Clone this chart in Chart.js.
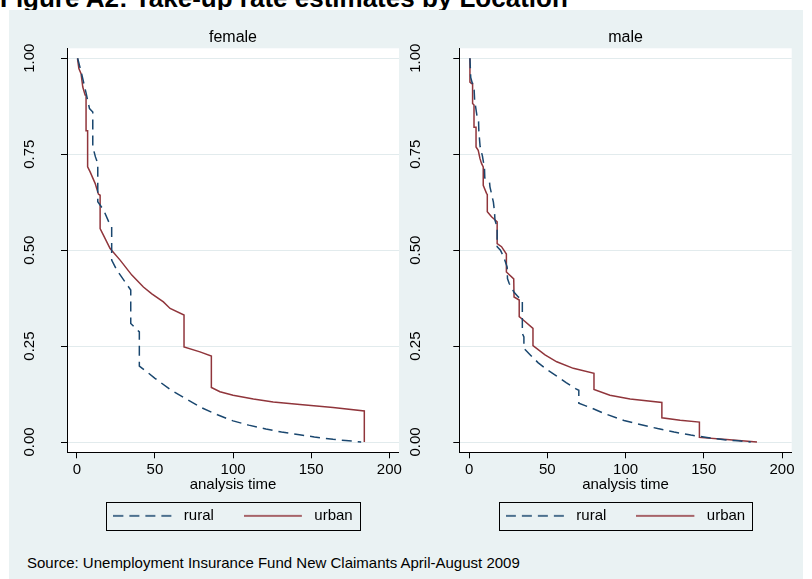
<!DOCTYPE html>
<html>
<head>
<meta charset="utf-8">
<script src="https://cdn.jsdelivr.net/npm/chart.js@4.4.1/dist/chart.umd.min.js"></script>
<style>
  html, body { margin: 0; padding: 0; background: #fff; }
  body { width: 812px; height: 579px; position: relative; overflow: hidden; font-family: "Liberation Sans", Arial, sans-serif; color: #000; }
  #title { position: absolute; left: 0; top: -15.5px; font-size: 26px; line-height: 26px; font-weight: bold; white-space: nowrap; }
  #panel { position: absolute; left: 9px; top: 10px; width: 794px; height: 569px; background: #eaf2f3; }
  canvas { position: absolute; }
  #source { position: absolute; left: 27px; top: 554px; font-size: 15px; line-height: 18px; white-space: nowrap; }
</style>
</head>
<body>
<div id="title">Figure A2: Take-up rate estimates by Location</div>
<div id="panel"></div>
<canvas id="female" width="396" height="540" style="left:9px;top:10px"></canvas>
<canvas id="male" width="398" height="540" style="left:405px;top:10px"></canvas>
<div id="source">Source: Unemployment Insurance Fund New Claimants April-August 2009</div>
<script>
const panels = ['female', 'male']
const seriesNames = ['rural', 'urban']
const xTicks = [0, 50, 100, 150, 200]
const yTicks = [0, 0.25, 0.5, 0.75, 1]
const xTitle = 'analysis time'

// Kaplan-Meier estimates (time, survivor share)
const femaleRuralTime = [0.5, 2.8, 6.0, 8.1, 10.2, 10.2, 11.9, 13.4, 13.4, 17.2, 20.9, 22.3, 22.3, 25.6, 30.9, 34.5, 34.5, 40.0, 40.0, 44.8, 50, 60, 70, 80, 90, 100, 110, 121, 131, 142.5, 152, 164, 172, 182]
const femaleRuralSurv = [1.000, 0.964, 0.908, 0.869, 0.860, 0.769, 0.743, 0.726, 0.626, 0.604, 0.569, 0.561, 0.474, 0.448, 0.417, 0.396, 0.309, 0.287, 0.198, 0.183, 0.166, 0.136, 0.112, 0.089, 0.071, 0.055, 0.044, 0.034, 0.026, 0.019, 0.013, 0.007, 0.004, 0.000]

const femaleUrbanTime = [0.4, 1.3, 2.7, 3.8, 5.3, 5.9, 5.9, 6.9, 6.9, 8.5, 11.7, 13.8, 14.9, 14.9, 17.0, 21.3, 27.7, 35.2, 42.6, 48.0, 55.4, 59.7, 68.6, 68.6, 78.8, 86.1, 86.1, 91.6, 100, 113, 125.7, 142.8, 164, 184, 184]
const femaleUrbanSurv = [1.000, 0.973, 0.960, 0.925, 0.904, 0.904, 0.811, 0.811, 0.717, 0.704, 0.674, 0.646, 0.643, 0.556, 0.539, 0.504, 0.474, 0.435, 0.404, 0.386, 0.365, 0.348, 0.331, 0.248, 0.235, 0.224, 0.142, 0.131, 0.122, 0.112, 0.104, 0.098, 0.090, 0.081, 0.000]

const maleRuralTime = [0.5, 1.0, 3.2, 3.5, 5.0, 6.0, 6.2, 6.6, 7.0, 8.5, 9.8, 10.0, 13.0, 13.3, 15.5, 16.2, 16.5, 17.9, 17.9, 20.0, 22.0, 24.3, 24.5, 25.6, 28.6, 31.4, 34.0, 34.0, 35.0, 35.0, 39.1, 44.0, 50.0, 56.0, 62.0, 68.0, 70.1, 70.1, 78.5, 86.0, 99.0, 110, 120.5, 131, 141.7, 152, 163, 172, 180]
const maleRuralSurv = [1.000, 0.950, 0.917, 0.890, 0.850, 0.838, 0.810, 0.790, 0.770, 0.745, 0.713, 0.688, 0.678, 0.665, 0.625, 0.600, 0.578, 0.560, 0.509, 0.500, 0.483, 0.456, 0.426, 0.413, 0.391, 0.378, 0.370, 0.283, 0.274, 0.244, 0.227, 0.207, 0.188, 0.172, 0.155, 0.139, 0.135, 0.101, 0.088, 0.075, 0.056, 0.045, 0.035, 0.026, 0.018, 0.012, 0.006, 0.003, 0.000]

const maleUrbanTime = [0.5, 0.5, 1.5, 2.2, 2.2, 3.1, 3.1, 4.4, 4.4, 5.8, 6.9, 7.9, 9.0, 9.0, 11.1, 11.6, 11.6, 14.3, 17.9, 17.9, 20.7, 23.8, 23.8, 28.5, 28.7, 32.0, 32.0, 34.6, 40.8, 40.8, 48.5, 56.0, 66.6, 79.8, 79.8, 90.0, 102.9, 123.2, 123.2, 134.9, 147.2, 147.2, 162.6, 184]
const maleUrbanSurv = [1.000, 0.938, 0.934, 0.934, 0.882, 0.878, 0.820, 0.820, 0.769, 0.760, 0.739, 0.726, 0.717, 0.669, 0.648, 0.645, 0.600, 0.587, 0.574, 0.517, 0.509, 0.490, 0.443, 0.425, 0.378, 0.370, 0.327, 0.318, 0.296, 0.251, 0.227, 0.209, 0.192, 0.179, 0.137, 0.122, 0.112, 0.103, 0.063, 0.057, 0.052, 0.012, 0.007, 0.000]

const NAVY = '#1a476f'
const MAROON = '#90353b'
const DASH = [10, 6]

Chart.defaults.font.family = '"Liberation Sans", Arial, sans-serif'
Chart.defaults.color = '#000'

const toPoints = (ts, ss) => ts.map((t, i) => ({ x: t, y: ss[i] }))

// little line swatch used as the legend key (line 58px, then a gap)
function lineSample(color, dash) {
  const c = document.createElement('canvas')
  c.width = 63
  c.height = 4
  const g = c.getContext('2d')
  g.strokeStyle = color
  g.lineWidth = 1.5
  g.setLineDash(dash)
  g.beginPath()
  g.moveTo(0, 2)
  g.lineTo(58, 2)
  g.stroke()
  return c
}
const samples = [lineSample(NAVY, DASH), lineSample(MAROON, [])]

const plotBackground = {
  id: 'plotBackground',
  beforeDraw(chart) {
    const { ctx, chartArea: a } = chart
    ctx.save()
    ctx.fillStyle = '#fff'
    ctx.fillRect(a.left, a.top, a.right - a.left, a.bottom - a.top)
    ctx.restore()
  }
}

const legendFrame = {
  id: 'legendFrame',
  afterDraw(chart) {
    const boxes = chart.legend.legendHitBoxes
    if (!boxes || !boxes.length) return
    const first = boxes[0]
    const last = boxes[boxes.length - 1]
    const cy = first.top + first.height / 2
    const x0 = Math.round(first.left - 7) + 0.5
    const x1 = Math.round(last.left + last.width + 7) + 0.5
    const y0 = Math.round(cy - 14) + 0.5
    const y1 = Math.round(cy + 14) + 0.5
    const ctx = chart.ctx
    ctx.save()
    ctx.strokeStyle = '#000'
    ctx.lineWidth = 1
    ctx.strokeRect(x0, y0, x1 - x0, y1 - y0)
    ctx.restore()
  }
}

function makePanel(id, title, rural, urban, yWidth, yPad, padRight) {
  return new Chart(document.getElementById(id), {
    type: 'line',
    data: {
      datasets: [
        {
          label: seriesNames[0],
          data: rural,
          borderColor: NAVY,
          borderWidth: 1.5,
          borderDash: DASH,
          pointRadius: 0,
          tension: 0,
          fill: false,
        },
        {
          label: seriesNames[1],
          data: urban,
          borderColor: MAROON,
          borderWidth: 1.5,
          pointRadius: 0,
          tension: 0,
          fill: false,
        },
      ],
    },
    options: {
      responsive: false,
      animation: false,
      layout: { padding: { left: 0, right: padRight, top: 0, bottom: 26.65 } },
      scales: {
        x: {
          type: 'linear',
          min: -6.3,
          max: 206.2,
          afterBuildTicks: (axis) => { axis.ticks = xTicks.map(v => ({ value: v })) },
          afterFit: (axis) => { axis.height = 26.05 },
          ticks: { font: { size: 15 }, color: '#000', padding: 3, maxRotation: 0, callback: (v) => String(v) },
          grid: { drawOnChartArea: false, drawTicks: true, tickLength: 6, tickColor: '#000' },
          border: { display: true, color: '#000', width: 1 },
          title: { display: true, text: xTitle, font: { size: 15 }, color: '#000', padding: { top: 0, bottom: -15.65 } },
        },
        y: {
          type: 'linear',
          min: -0.0268,
          max: 1.026,
          afterBuildTicks: (axis) => { axis.ticks = yTicks.map(v => ({ value: v })) },
          afterFit: (axis) => { axis.width = yWidth },
          ticks: { font: { size: 15 }, color: '#000', padding: yPad, minRotation: 90, maxRotation: 90, crossAlign: 'center', callback: (v) => v.toFixed(2) },
          grid: { color: '#e2ebed', lineWidth: 1, drawTicks: true, tickLength: 6, tickColor: '#000' },
          border: { display: true, color: '#000', width: 1 },
        },
      },
      plugins: {
        title: { display: true, text: title, fullSize: false, font: { size: 16, weight: 'normal' }, color: '#000', padding: { top: 17.9, bottom: 1.2 } },
        legend: {
          position: 'bottom',
          fullSize: false,
          maxHeight: 45,
          labels: {
            usePointStyle: true,
            pointStyleWidth: 63,
            padding: 30,
            font: { size: 15 },
            color: '#000',
            generateLabels: (chart) => chart.data.datasets.map((ds, i) => ({
              text: ds.label,
              pointStyle: samples[i],
              datasetIndex: i,
              hidden: false,
              lineWidth: 0,
              strokeStyle: ds.borderColor,
              fillStyle: ds.borderColor,
              fontColor: '#000',
            })),
          },
        },
        tooltip: { enabled: false },
      },
    },
    plugins: [plotBackground, legendFrame],
  })
}

makePanel('female', panels[0], toPoints(femaleRuralTime, femaleRuralSurv), toPoints(femaleUrbanTime, femaleUrbanSurv), 58, 16.9, 6)
makePanel('male', panels[1], toPoints(maleRuralTime, maleRuralSurv), toPoints(maleUrbanTime, maleUrbanSurv), 54.3, 23.2, 11.3)
</script>
</body>
</html>
